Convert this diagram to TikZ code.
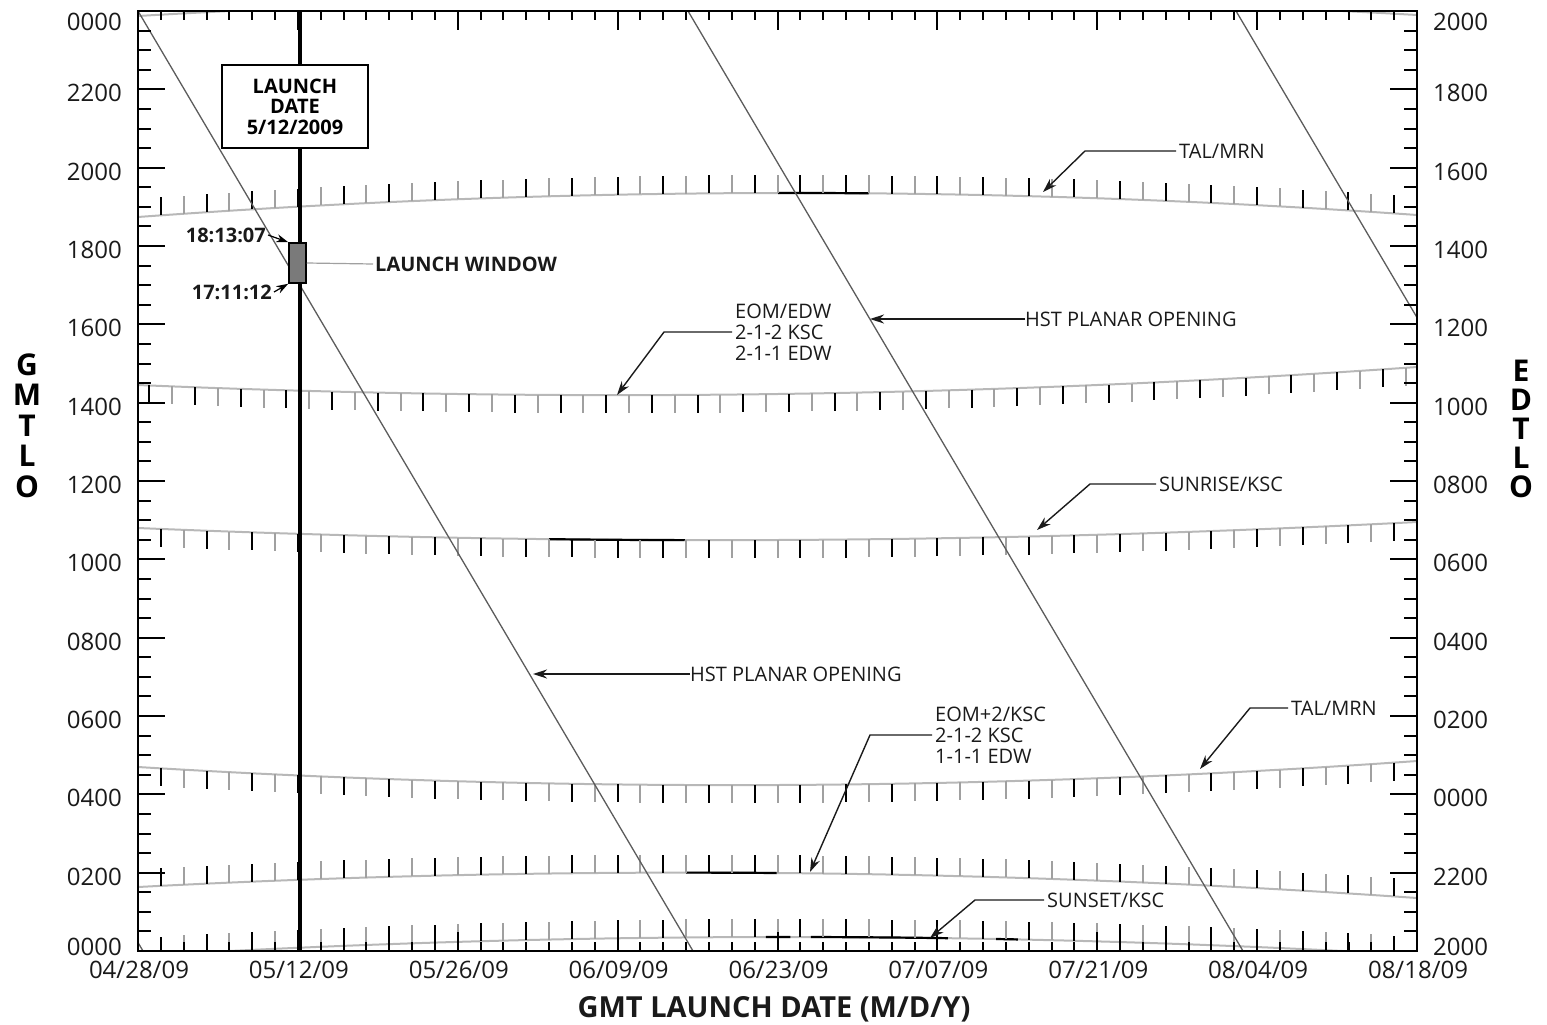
\documentclass[tikz,border=0pt]{standalone}
\usepackage{fontspec}
\setmainfont{Open Sans}
\usetikzlibrary{arrows.meta}

\definecolor{curvegrey}{HTML}{B8B8B8}
\definecolor{tickgrey}{HTML}{A0A0A0}
\definecolor{hstgrey}{HTML}{5C5C5C}
\definecolor{inkdark}{HTML}{1A1A1A}
\definecolor{windowgrey}{HTML}{7A7A7A}

% one track: style, y at start/middle/end, t range
\newcommand{\track}[6]{%
  \draw[#1] plot[domain=#5:#6, samples=80, smooth]
    ({138+1279*\x}, {2*(#2)*(\x-0.5)*(\x-1)-4*(#3)*\x*(\x-1)+2*(#4)*\x*(\x-0.5)});}

% ticks every 2 days along a track, black and grey in turn
\newcommand{\trackticks}[5]{%
  \foreach \k in {0,...,55}{%
    \pgfmathsetmacro\tval{(#5+2*\k)/112}%
    \pgfmathsetmacro\tkx{138+1279*\tval}%
    \pgfmathsetmacro\tky{2*(#1)*(\tval-0.5)*(\tval-1)-4*(#2)*\tval*(\tval-1)+2*(#3)*\tval*(\tval-0.5)}%
    \ifodd\k \def\tcol{tickgrey}\else\def\tcol{black}\fi
    \ifdim\tkx pt<1415pt \draw[line width=2pt, \tcol] (\tkx,\tky) -- ++(0,#4);\fi
  }}

\begin{document}
\begin{tikzpicture}[x=1pt, y=-1pt,
    frame/.style={line width=2pt, black},
    curve/.style={line width=2pt, curvegrey},
    curveblack/.style={line width=2.2pt, black},
    hst/.style={line width=1.3pt, hstgrey},
    launchline/.style={line width=3.2pt, black},
    ticklbl/.style={font=\fontsize{24}{26}\selectfont, text=inkdark, inner sep=0pt},
    axisletter/.style={font=\bfseries\fontsize{30}{30}\selectfont, inner sep=0pt},
    note/.style={font=\fontsize{20}{21}\selectfont, text=inkdark, align=left, inner sep=3pt},
    boldnote/.style={font=\bfseries\fontsize{20}{22}\selectfont, text=inkdark, inner sep=2pt},
    callout/.style={line width=1.4pt, inkdark, -{Stealth[length=14pt, width=9pt]}},
    datebox/.style={draw, line width=1.6pt, fill=white, minimum width=146pt, minimum height=83pt,
      align=center, font=\bfseries\fontsize{20}{20.5}\selectfont, inner sep=0pt},
    winbox/.style={draw, line width=1.5pt, fill=windowgrey, minimum width=17pt, minimum height=40pt, inner sep=0pt}]

  \useasboundingbox (0,0) rectangle (1547,1025);

  % tracks and planar lines, kept inside the frame
  \begin{scope}
    \clip (138,11) rectangle (1417,951);
    % TAL/MRN upper
    \track{curve}{217}{193}{215}{0}{1}
    \track{curveblack}{217}{193}{215}{0.5004}{0.5715}
    \trackticks{217}{193}{215}{-18}{2}
    % EOM/EDW
    \track{curve}{385}{394}{367}{0}{1}
    \trackticks{385}{394}{367}{18}{1}
    % SUNRISE/KSC
    \track{curve}{528}{540}{522}{0}{1}
    \track{curveblack}{528}{540}{522}{0.3214}{0.4285}
    \trackticks{528}{540}{522}{18}{2}
    % TAL/MRN lower
    \track{curve}{767}{785}{761}{0}{1}
    \trackticks{767}{785}{761}{18}{2}
    % EOM+2/KSC
    \track{curve}{887}{873}{898}{0}{1}
    \track{curveblack}{887}{873}{898}{0.4285}{0.4996}
    \trackticks{887}{873}{898}{-18}{2}
    % SUNSET/KSC, wraps to the top
    \track{curve}{956}{937}{955}{0}{1}
    \track{curve}{16}{-3}{15}{0}{1}
    \track{curveblack}{956}{937}{955}{0.491}{0.510}
    \track{curveblack}{956}{937}{955}{0.526}{0.634}
    \track{curveblack}{956}{937}{955}{0.671}{0.688}
    \trackticks{956}{937}{955}{-18}{2}
    % HST planar opening lines
    \foreach \hx in {-412,138,688,1236}
      \draw[hst] (\hx,11) -- ++(555,940);
  \end{scope}

  \draw[launchline] (300,11) -- (300,951);

  % frame and its ticks
  \draw[frame] (138,11) rectangle (1417,951);
  \foreach \i in {1,...,47}{
    \pgfmathsetmacro\ay{11+19.5833*\i}
    \pgfmathsetmacro\al{ifthenelse(mod(\i,4)==0,27,13)}
    \draw[frame] (138,\ay) -- ++(\al,0);
    \draw[frame] (1417,\ay) -- ++(-\al,0);
  }
  \foreach \i in {1,...,55}{
    \pgfmathsetmacro\bx{138+22.8393*\i}
    \pgfmathsetmacro\bl{ifthenelse(mod(\i,7)==0,19,9)}
    \draw[frame] (\bx,11) -- ++(0,\bl);
    \draw[frame] (\bx,951) -- ++(0,-\bl);
  }

  % GMT labels (left) and EDT labels (right)
  \foreach \lab [count=\n from 0] in {0000,2200,2000,1800,1600,1400,1200,1000,0800,0600,0400,0200,0000}{
    \pgfmathsetmacro\ly{min(max(15+78.333*\n,22),947)}
    \node[ticklbl, anchor=east] (gmt\n) at (122,\ly) {\lab};
  }
  \foreach \lab [count=\n from 0] in {2000,1800,1600,1400,1200,1000,0800,0600,0400,0200,0000,2200,2000}{
    \pgfmathsetmacro\ly{min(max(15+78.333*\n,22),947)}
    \node[ticklbl, anchor=west] (edt\n) at (1433,\ly) {\lab};
  }
  \foreach \c [count=\n] in {G,M,T,L,O}
    \node[axisletter] (gmtl\n) at (27,{334+30.5*\n}) {\c};
  \foreach \c [count=\n] in {E,D,T,L,O}
    \node[axisletter] (edtl\n) at (1521,{342+29*\n}) {\c};

  % date labels
  \foreach \dl [count=\n from 0] in {04/28/09,05/12/09,05/26/09,06/09/09,06/23/09,07/07/09,07/21/09,08/04/09,08/18/09}
    \node[ticklbl] (date\n) at ({139+159.875*\n},970) {\dl};
  \node[font=\bfseries\fontsize{29}{30}\selectfont, text=inkdark, inner sep=0pt] (xtitle) at (774,1009) {GMT LAUNCH DATE (M/D/Y)};

  % launch date and window
  \node[datebox] (ldate) at (295,106.5) {LAUNCH\\DATE\\5/12/2009};
  \node[winbox] (lwin) at (297.5,263) {};
  \node[boldnote, anchor=west] (lwintxt) at (373,264) {LAUNCH WINDOW};
  \draw[line width=1.2pt, tickgrey] (lwin.east) -- (lwintxt.west);
  \node[boldnote, anchor=east] (tupper) at (268,235) {18:13:07};
  \node[boldnote, anchor=east] (tlower) at (274,292) {17:11:12};
  \draw[line width=1.2pt, -{Stealth[length=12pt, width=8pt]}] (tupper.east) -- (lwin.north west);
  \draw[line width=1.2pt, -{Stealth[length=12pt, width=8pt]}] (tlower.east) -- (lwin.south west);

  % callouts
  \node[note, anchor=west] (talUtxt) at (1176,151) {TAL/MRN};
  \coordinate (talUknee) at (1085,151);
  \coordinate (talUtip) at (1043,192);
  \draw[callout] (talUtxt.west) -- (talUknee) -- (talUtip);

  \node[note, anchor=west] (eomEtxt) at (732,332) {EOM/EDW\\2-1-2 KSC\\2-1-1 EDW};
  \coordinate (eomEknee) at (664,332);
  \coordinate (eomEtip) at (617,395);
  \draw[callout] (eomEtxt.west) -- (eomEknee) -- (eomEtip);

  \node[note, anchor=west, inner sep=0pt] (hstUtxt) at (1025,319) {HST PLANAR OPENING};
  \coordinate (hstUtip) at (870,319);
  \draw[callout] (hstUtxt.west) -- (hstUtip);

  \node[note, anchor=west] (riseTxt) at (1156,484) {SUNRISE/KSC};
  \coordinate (riseKnee) at (1090,484);
  \coordinate (riseTip) at (1037,530);
  \draw[callout] (riseTxt.west) -- (riseKnee) -- (riseTip);

  \node[note, anchor=west, inner sep=0pt] (hstLtxt) at (690,674) {HST PLANAR OPENING};
  \coordinate (hstLtip) at (533,674);
  \draw[callout] (hstLtxt.west) -- (hstLtip);

  \node[note, anchor=west] (talLtxt) at (1288,708) {TAL/MRN};
  \coordinate (talLknee) at (1250,708);
  \coordinate (talLtip) at (1200,769);
  \draw[callout] (talLtxt.west) -- (talLknee) -- (talLtip);

  \node[note, anchor=west] (eom2txt) at (932,735) {EOM+2/KSC\\2-1-2 KSC\\1-1-1 EDW};
  \coordinate (eom2knee) at (870,735);
  \coordinate (eom2tip) at (810,872);
  \draw[callout] (eom2txt.west) -- (eom2knee) -- (eom2tip);

  \node[note, anchor=west] (setTxt) at (1044,900) {SUNSET/KSC};
  \coordinate (setKnee) at (975,900);
  \coordinate (setTip) at (930,938);
  \draw[callout] (setTxt.west) -- (setKnee) -- (setTip);
\end{tikzpicture}
\end{document}
